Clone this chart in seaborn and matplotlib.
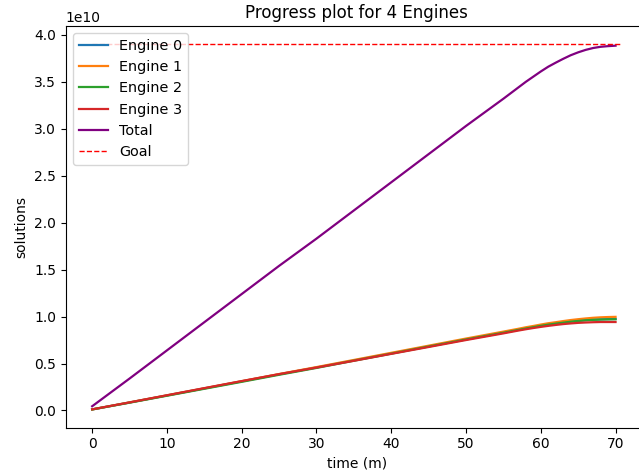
import matplotlib
matplotlib.use("Agg")
import matplotlib.pyplot as plt
import seaborn as sns
import numpy as np
import pandas as pd

# time in minutes
times = [0, 5, 10, 15, 20, 25, 30, 35, 40, 45, 50,
         55, 56, 57, 58, 59, 60, 61, 62, 63, 64, 65, 66, 67, 68, 69, 70]
# solutions per engine (units of 1e9)
engine0 = [0.11, 0.85, 1.60, 2.35, 3.10, 3.85, 4.58, 5.33, 6.08, 6.83, 7.58,
           8.31, 8.46, 8.61, 8.76, 8.90, 9.04, 9.17, 9.28, 9.38, 9.48, 9.56, 9.63, 9.68, 9.71, 9.73, 9.75]
engine1 = [0.11, 0.86, 1.61, 2.36, 3.12, 3.88, 4.62, 5.38, 6.14, 6.90, 7.66,
           8.40, 8.55, 8.70, 8.86, 9.00, 9.15, 9.29, 9.40, 9.52, 9.63, 9.72, 9.80, 9.87, 9.92, 9.95, 9.97]
engine2 = [0.11, 0.83, 1.57, 2.31, 3.05, 3.80, 4.53, 5.30, 6.05, 6.81, 7.56,
           8.28, 8.43, 8.58, 8.73, 8.87, 9.01, 9.14, 9.25, 9.35, 9.45, 9.53, 9.60, 9.65, 9.68, 9.70, 9.71]
engine3 = [0.12, 0.86, 1.62, 2.38, 3.13, 3.87, 4.57, 5.29, 6.03, 6.76, 7.50,
           8.21, 8.36, 8.51, 8.65, 8.78, 8.90, 9.01, 9.11, 9.20, 9.27, 9.33, 9.37, 9.40, 9.42, 9.42, 9.42]
goal_value = 3.9e10
goal_x = [0, 70.8]

engines = [engine0, engine1, engine2, engine3]
engine_labels = ["Engine 0", "Engine 1", "Engine 2", "Engine 3"]
colors = ["#1f77b4", "#ff7f0e", "#2ca02c", "#d62728"]

df = pd.DataFrame({"time": times})
for lab, vals in zip(engine_labels, engines):
    df[lab] = np.array(vals) * 1e9
df["Total"] = df[engine_labels].sum(axis=1)

fig = plt.figure(figsize=(6.39, 4.76), dpi=100)
ax = fig.add_axes([65.7 / 639, 1 - 427.7 / 476, (648 - 65.7) / 639, (427.7 - 26) / 476])

for lab, c in zip(engine_labels, colors):
    sns.lineplot(data=df, x="time", y=lab, ax=ax, color=c, label=lab, linewidth=1.6)
sns.lineplot(data=df, x="time", y="Total", ax=ax, color="purple", label="Total", linewidth=1.6)
goal_df = pd.DataFrame({"x": goal_x, "y": [goal_value] * len(goal_x)})
sns.lineplot(data=goal_df, x="x", y="y", ax=ax, color="red", linestyle="--", linewidth=1, label="Goal")

ax.set_title("Progress plot for 4 Engines")
ax.set_xlabel("time (m)")
ax.set_ylabel("solutions")
ax.legend(loc="upper left", fontsize=10.4)

fig.savefig("out.png", dpi=100)
